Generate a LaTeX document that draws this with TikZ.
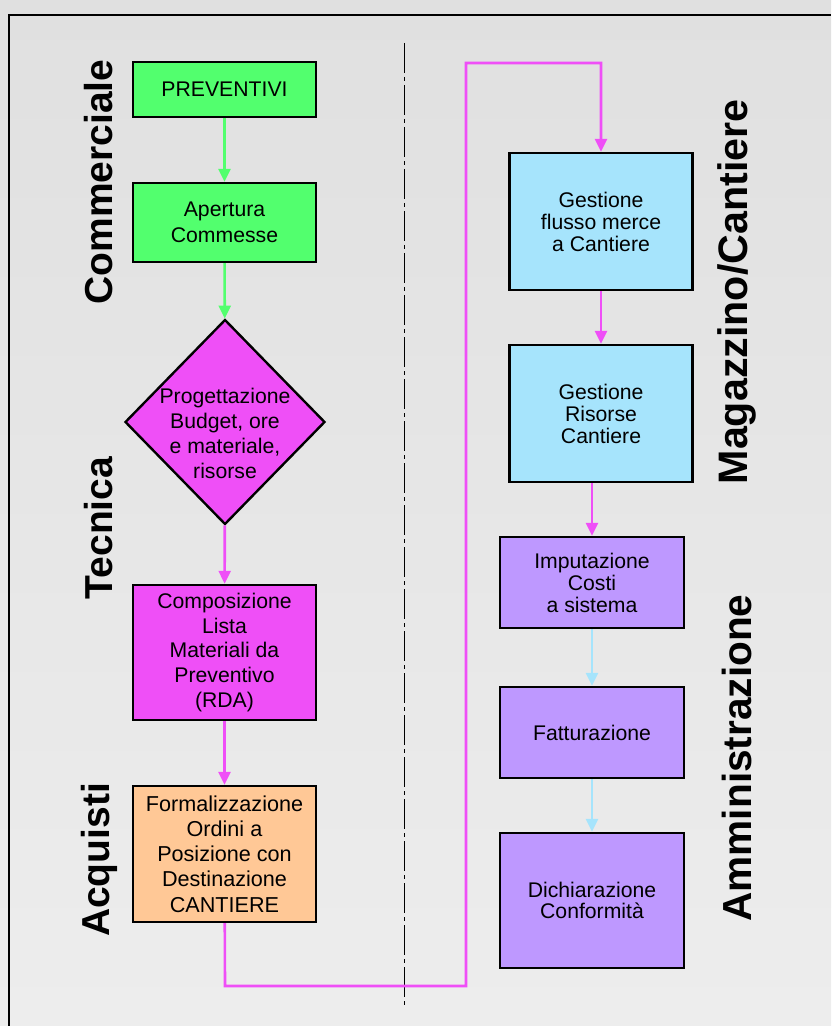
\documentclass[tikz,border=0pt]{standalone}
\usepackage{fontspec}
\setmainfont{Liberation Sans}
\usepackage{tikz}
\usetikzlibrary{shapes.geometric,arrows.meta}

\definecolor{verde}{HTML}{52FF6E}
\definecolor{viola}{HTML}{EF4FF7}
\definecolor{arancio}{HTML}{FFC896}
\definecolor{celeste}{HTML}{A6E4FC}
\definecolor{lilla}{HTML}{BE98FF}
\definecolor{bgtop}{HTML}{E0E0E0}
\definecolor{bgmid}{HTML}{D6D6D6}
\definecolor{bgbot}{HTML}{EDEDED}

\begin{document}
\begin{tikzpicture}[x=0.5pt, y=-0.5pt,
  main/.style = {draw, line width=1.2pt, rectangle, minimum width=91.5pt, align=center, font=\fontsize{10.6}{12}\selectfont, inner sep=0pt},
  rombo/.style = {draw, line width=1.2pt, diamond, aspect=1, minimum width=100pt, minimum height=102.5pt, inner sep=0pt},
  testo/.style = {align=center, font=\fontsize{10.6}{12.5}\selectfont},
  lane/.style = {rotate=90, font=\fontsize{19.5}{20}\selectfont\bfseries},
  flow/.style = {line width=1.3pt, -{Triangle[width=6pt,length=6.5pt]}}]
\useasboundingbox (0,0) rectangle (831,1026);
\shade[top color=bgtop, middle color=bgmid, bottom color=bgbot] (0,0) rectangle (831,1026);
\draw[line width=0.8pt] (9,1026) |- (831,15);
\draw[line width=0.5pt, dash pattern=on 15pt off 2pt on 2pt off 2pt] (404,43) -- (404,1006);

% colonna sinistra
\node[main, fill=verde, minimum height=27.5pt] (prev) at (224.5,89.5) {PREVENTIVI};
\node[main, fill=verde, minimum height=39.5pt, font=\fontsize{10.6}{13}\selectfont] (aper) at (224.5,222.5) {Apertura\\Commesse};
\node[rombo, fill=viola, label={[testo, yshift=-5.5pt]center:{Progettazione\\Budget, ore\\e materiale,\\risorse}}] (prog) at (225,422) {};
\node[main, fill=viola, minimum height=67.5pt, font=\fontsize{10.6}{12.4}\selectfont] (comp) at (224.5,652.5) {Composizione\\Lista\\Materiali da\\Preventivo\\(RDA)};
\node[main, fill=arancio, minimum height=68pt, font=\fontsize{10.8}{12.6}\selectfont] (form) at (224.5,854) {Formalizzazione\\Ordini a\\Posizione con\\Destinazione\\CANTIERE};

% colonna destra
\node[main, fill=celeste, minimum height=68.5pt, font=\fontsize{10.6}{11}\selectfont] (merce) at (601,221.5) {Gestione\\flusso merce\\a Cantiere};
\node[main, fill=celeste, minimum height=68.5pt, font=\fontsize{10.6}{11}\selectfont] (risorse) at (601,413.5) {Gestione\\Risorse\\Cantiere};
\node[main, fill=lilla, minimum width=92pt, minimum height=45.5pt, font=\fontsize{10.6}{11}\selectfont] (imp) at (592,582.5) {Imputazione\\Costi\\a sistema};
\node[main, fill=lilla, minimum width=92pt, minimum height=45.5pt] (fatt) at (592,732.5) {Fatturazione};
\node[main, fill=lilla, minimum width=92pt, minimum height=67.5pt, font=\fontsize{10.6}{10.5}\selectfont] (dich) at (592,900.5) {Dichiarazione\\Conformità};

% reparti
\node[lane] (comm) at (99,182) {Commerciale};
\node[lane] (tecn) at (99,528) {Tecnica};
\node[lane] (acq) at (99,860) {Acquisti};
\node[lane, font=\fontsize{20.6}{21}\selectfont\bfseries] (magaz) at (737,292) {Magazzino/Cantiere};
\node[lane, font=\fontsize{20.3}{21}\selectfont\bfseries] (amm) at (737,758) {Amministrazione};

\coordinate (giu) at (225,986);
\coordinate (su) at (466,63);
\draw[flow, verde] (prev) -- (aper);
\draw[flow, verde] (aper) -- (prog);
\draw[flow, viola] (prog) -- (comp);
\draw[flow, viola] (comp) -- (form);
\draw[flow, viola] (form) -- (giu) -| (su) -| (merce);
\draw[flow, viola] (merce) -- (risorse);
\draw[flow, viola] (risorse.south -| imp.north) -- (imp);
\draw[flow, celeste] (imp) -- (fatt);
\draw[flow, celeste] (fatt) -- (dich);
\end{tikzpicture}
\end{document}
